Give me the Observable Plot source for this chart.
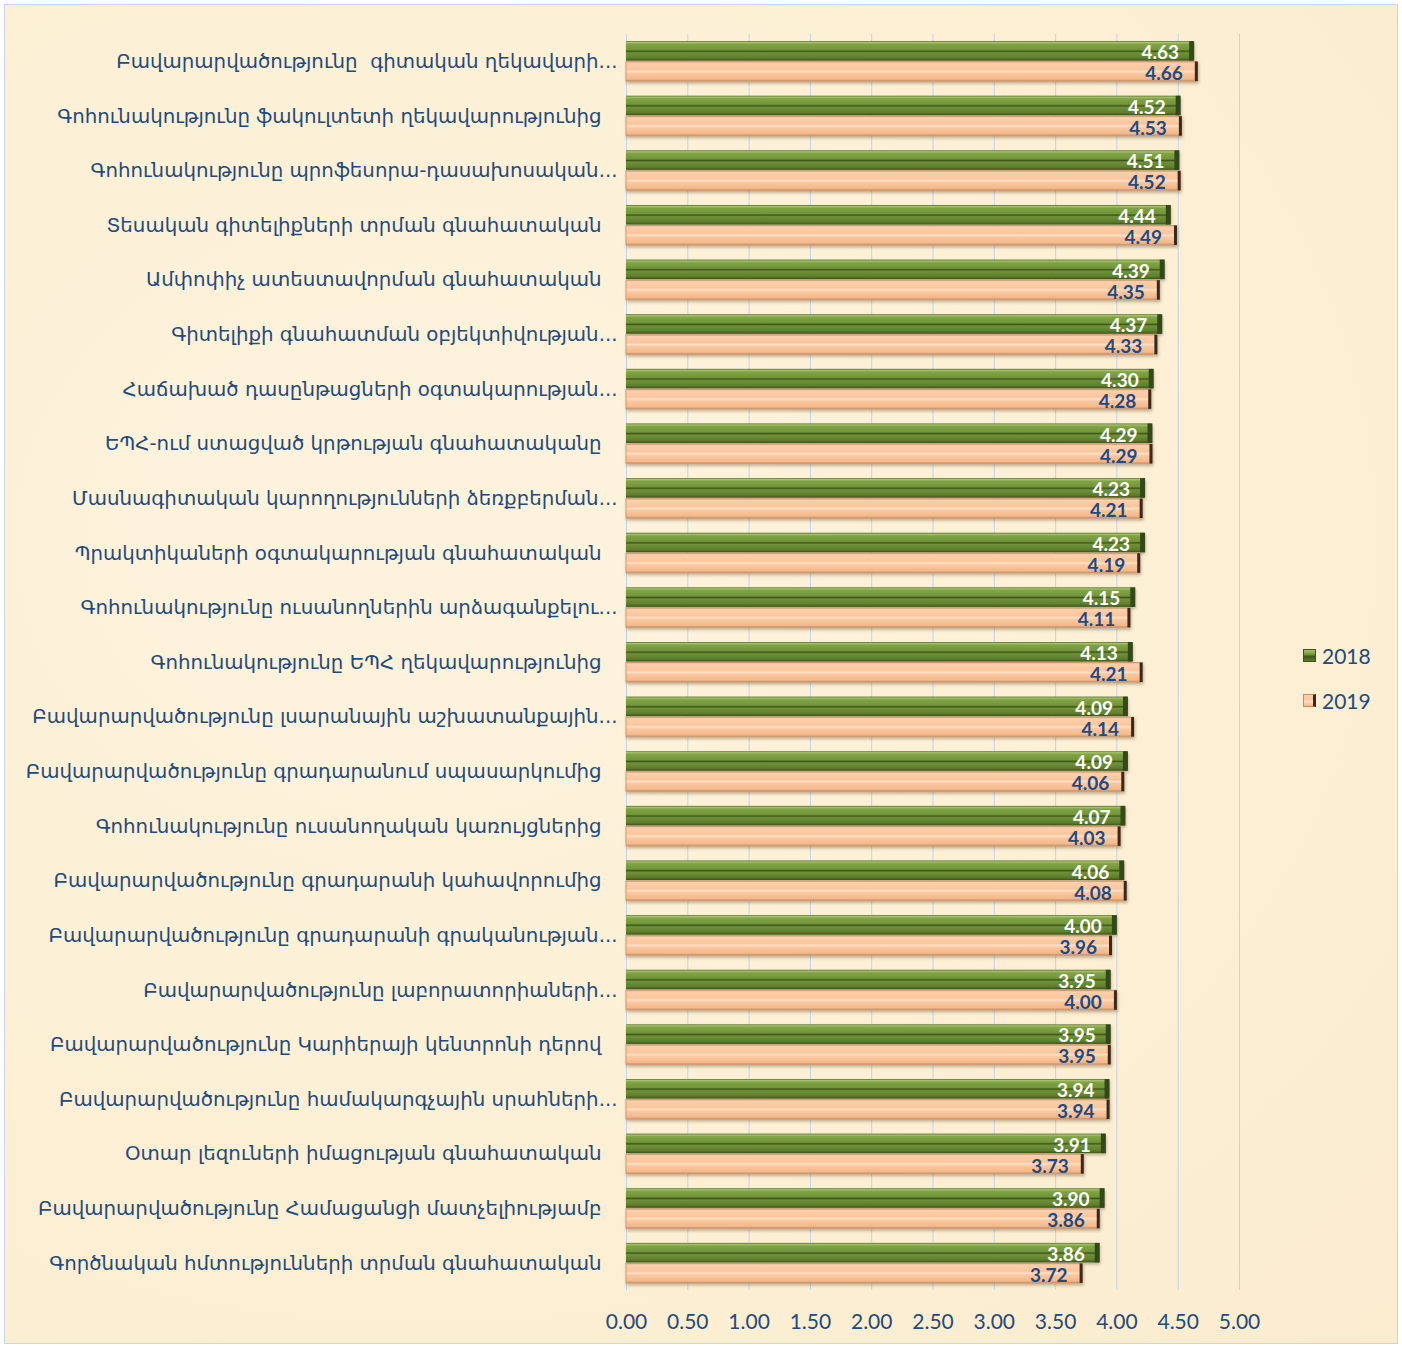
<!DOCTYPE html>
<html>
<head>
<meta charset="utf-8">
<script src="https://cdn.jsdelivr.net/npm/d3@7"></script>
<script src="https://cdn.jsdelivr.net/npm/@observablehq/plot@0.6"></script>
<style>
  body { margin: 0; background: #ffffff; }
  #wrap { position: relative; width: 1402px; height: 1346px; overflow: hidden; background: #ffffff; }
  #frame { position: absolute; left: 4px; top: 4px; width: 1392px; height: 1338px;
           border: 1px solid #c5d6ec;
           background: radial-gradient(ellipse at 30% 40%, #fdf3dd 0%, #fcefd4 60%, #fbecd0 100%); }
  #chart { position: absolute; left: 0; top: 0; }
  #legend { position: absolute; left: 1303px; top: 633px; font-family: Lato, "Liberation Sans", sans-serif;
            font-size: 21px; color: #234a7a; }
  .item { display: flex; align-items: center; height: 45px; }
  .sw { width: 13px; height: 13px; margin-right: 6px; box-sizing: border-box; }
  .sw18 { background: linear-gradient(#a6c46a, #6f8f38 45%, #3e561b 55%, #5c7a2d); border: 1px solid #3d5418; }
  .sw19 { background: linear-gradient(#fcd0ac, #fbc59c 45%, #fde0c8 55%, #f4b88a); border: 1px solid #c48c64; border-right: 3px solid #3b2a1c; }
</style>
</head>
<body>
<div id="wrap">
  <div id="frame"></div>
  <div id="chart"></div>
  <div id="legend">
    <div class="item"><div class="sw sw18"></div><span>2018</span></div>
    <div class="item"><div class="sw sw19"></div><span>2019</span></div>
  </div>
</div>
<script>
const categories = [
  "Բավարարվածությունը  գիտական ղեկավարի...",
  "Գոհունակությունը ֆակուլտետի ղեկավարությունից",
  "Գոհունակությունը պրոֆեսորա-դասախոսական...",
  "Տեսական գիտելիքների տրման գնահատական",
  "Ամփոփիչ ատեստավորման գնահատական",
  "Գիտելիքի գնահատման օբյեկտիվության...",
  "Հաճախած դասընթացների օգտակարության...",
  "ԵՊՀ-ում ստացված կրթության գնահատականը",
  "Մասնագիտական կարողությունների ձեռքբերման...",
  "Պրակտիկաների օգտակարության գնահատական",
  "Գոհունակությունը ուսանողներին արձագանքելու...",
  "Գոհունակությունը ԵՊՀ ղեկավարությունից",
  "Բավարարվածությունը լսարանային աշխատանքային...",
  "Բավարարվածությունը գրադարանում սպասարկումից",
  "Գոհունակությունը ուսանողական կառույցներից",
  "Բավարարվածությունը գրադարանի կահավորումից",
  "Բավարարվածությունը գրադարանի գրականության...",
  "Բավարարվածությունը լաբորատորիաների...",
  "Բավարարվածությունը Կարիերայի կենտրոնի դերով",
  "Բավարարվածությունը համակարգչային սրահների...",
  "Օտար լեզուների իմացության գնահատական",
  "Բավարարվածությունը Համացանցի մատչելիությամբ",
  "Գործնական հմտությունների տրման գնահատական"
];
const values2018 = [4.63, 4.52, 4.51, 4.44, 4.39, 4.37, 4.30, 4.29, 4.23, 4.23, 4.15, 4.13, 4.09, 4.09, 4.07, 4.06, 4.00, 3.95, 3.95, 3.94, 3.91, 3.90, 3.86];
const values2019 = [4.66, 4.53, 4.52, 4.49, 4.35, 4.33, 4.28, 4.29, 4.21, 4.19, 4.11, 4.21, 4.14, 4.06, 4.03, 4.08, 3.96, 4.00, 3.95, 3.94, 3.73, 3.86, 3.72];
const seriesNames = ["2018", "2019"];
const xTicks = [0, 0.5, 1, 1.5, 2, 2.5, 3, 3.5, 4, 4.5, 5];

const rows = categories.map((c, i) => ({category: c, v2018: values2018[i], v2019: values2019[i]}));
const truncated = categories.filter(c => c.endsWith("..."));
const full = categories.filter(c => !c.endsWith("..."));

const labelColor = "#234a7a";
const numFont = "Lato, 'Liberation Sans', sans-serif";
const catFont = "'DejaVu Sans', sans-serif";

const chart = Plot.plot({
  width: 1402,
  height: 1346,
  marginLeft: 626,
  marginRight: 163,
  marginTop: 34,
  marginBottom: 56,
  style: {background: "transparent", overflow: "visible"},
  x: {domain: [0, 5]},
  y: {domain: categories, paddingInner: 0.268, paddingOuter: 0.13, round: false},
  marks: [
    Plot.gridX(xTicks, {stroke: "#c3d3e8", strokeOpacity: 1, strokeWidth: 1}),
    // 2018 bars
    Plot.barX(rows, {x: "v2018", y: "category", insetBottom: 20.5, fill: "url(#grad2018)"}),
    Plot.tickX(rows, {x: "v2018", y: "category", insetBottom: 20.5, stroke: "#34491a", strokeWidth: 5, dx: -2.5}),
    // 2019 bars
    Plot.barX(rows, {x: "v2019", y: "category", insetTop: 20.5, fill: "url(#grad2019)", stroke: "#d29c73", strokeWidth: 1}),
    Plot.tickX(rows, {x: "v2019", y: "category", insetTop: 20.5, stroke: "#3b2a1c", strokeWidth: 3, dx: -1.5}),
    // value labels
    Plot.text(rows, {x: "v2018", y: "category", text: d => d.v2018.toFixed(2), textAnchor: "end",
      dx: -15, dy: -8.5, fill: "#ffffff", fontWeight: "bold", fontSize: 19, fontFamily: numFont}),
    Plot.text(rows, {x: "v2019", y: "category", text: d => d.v2019.toFixed(2), textAnchor: "end",
      dx: -15, dy: 12.5, fill: "#1f4a82", fontWeight: "bold", fontSize: 19, fontFamily: numFont}),
    // axes
    Plot.axisY(truncated, {tickSize: 0, tickPadding: 9, fontSize: 19.8, fill: labelColor, fontFamily: catFont, label: null}),
    Plot.axisY(full, {tickSize: 0, tickPadding: 25, fontSize: 19.8, fill: labelColor, fontFamily: catFont, label: null}),
    Plot.axisX(xTicks, {tickSize: 0, tickPadding: 24, tickFormat: d3.format(".2f"), fontSize: 21,
      fill: labelColor, fontFamily: numFont, label: null})
  ]
});

const svg = d3.select(chart);
const defs = svg.insert("defs", ":first-child");
function grad(id, stops) {
  const g = defs.append("linearGradient").attr("id", id)
    .attr("x1", 0).attr("y1", 0).attr("x2", 0).attr("y2", 1);
  stops.forEach(([o, c]) => g.append("stop").attr("offset", o).attr("stop-color", c));
}
grad("grad2018", [
  [0, "#4e6a23"], [0.07, "#a6c46a"], [0.16, "#80a346"], [0.44, "#73953a"],
  [0.52, "#3e561b"], [0.6, "#6f9238"], [0.86, "#5f7e2e"], [1, "#3d5418"]
]);
grad("grad2019", [
  [0, "#d8a47c"], [0.08, "#fcd0ac"], [0.4, "#fbc59c"], [0.5, "#fde0c8"],
  [0.6, "#fbc8a0"], [0.9, "#f4b88a"], [1, "#c48c64"]
]);
svg.selectAll('g[aria-label="bar"]').style("filter", "drop-shadow(1px 2px 1.5px rgba(80,60,30,0.35))");

document.getElementById("chart").appendChild(chart);
</script>
</body>
</html>
